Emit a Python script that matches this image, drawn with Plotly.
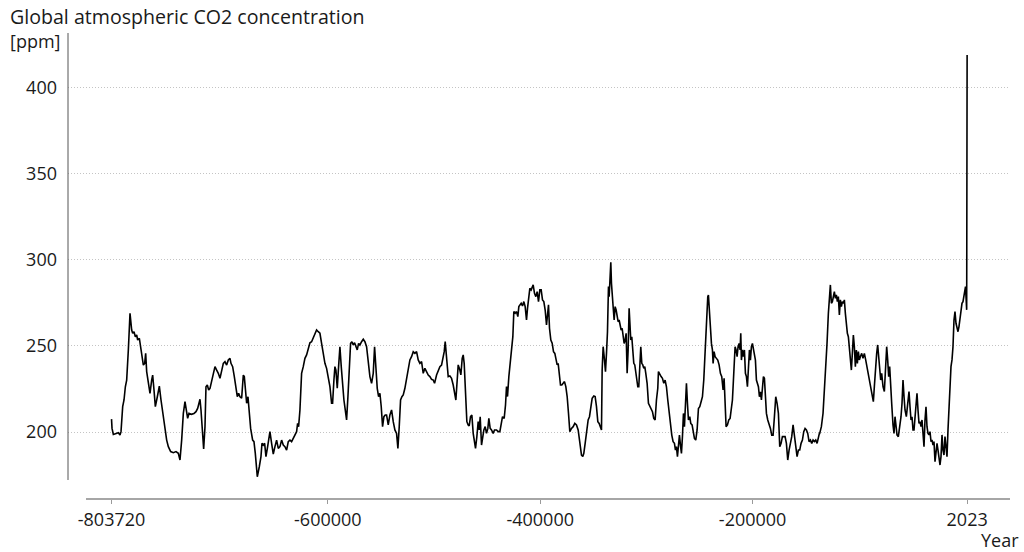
import plotly.graph_objects as go

# Atmospheric CO2 (ppm) by year, ice-core composite joined to the modern record.
# Each list holds (year, ppm) pairs for one stretch of the record.
record_804k_655k = [
    (-803720, 207.5), (-803250, 202.1), (-801993, 198.6), (-799483, 199.2), (-797286, 199.6),
    (-795717, 198.2), (-794776, 200.2), (-793207, 214.7), (-791951, 218.6), (-790696, 226.3),
    (-789441, 230.2), (-787872, 247.7), (-786303, 269.0), (-784734, 259.3), (-783793, 257.4),
    (-782537, 258.3), (-781282, 255.4), (-780027, 256.4), (-779086, 253.5), (-777517, 254.5),
    (-776261, 248.6), (-775006, 245.7), (-773751, 238.9), (-772496, 239.9), (-771554, 245.7),
    (-770613, 235.1), (-769044, 228.3), (-767475, 222.5), (-765906, 230.2), (-764965, 233.1),
    (-763709, 224.4), (-762454, 214.7), (-760571, 220.5), (-758689, 226.7), (-757120, 218.6),
    (-754923, 207.9), (-753354, 203.1), (-751785, 195.3), (-750216, 191.5), (-748019, 188.6),
    (-745509, 188.0), (-742999, 188.6), (-740802, 187.6), (-739233, 183.7), (-737664, 195.3),
    (-736095, 210.8), (-734526, 217.6), (-732957, 212.8), (-732016, 207.9), (-730760, 210.8),
    (-728564, 210.3), (-726053, 210.8), (-724171, 211.8), (-722602, 213.7), (-720405, 219.0),
    (-719464, 212.8), (-718208, 199.2), (-716953, 190.1), (-715698, 203.1), (-714757, 226.3),
    (-713501, 227.3), (-712246, 224.4), (-710991, 225.4), (-709422, 229.3), (-707853, 233.1),
    (-706284, 238.0), (-704715, 236.0), (-703146, 234.1), (-701577, 231.2), (-700008, 236.0),
    (-698439, 239.9), (-696870, 240.9), (-695301, 238.9), (-693732, 241.9), (-692163, 242.8),
    (-691222, 239.9), (-689653, 238.0), (-688084, 232.2), (-686515, 226.3), (-685259, 220.5),
    (-684004, 222.5), (-682749, 220.5), (-681180, 219.6), (-679611, 233.1), (-678670, 232.2),
    (-677728, 222.5), (-676473, 216.7), (-675218, 220.5), (-673963, 212.8), (-672707, 202.1),
    (-670825, 195.3), (-669569, 194.4), (-668314, 187.6), (-666431, 174.0), (-664549, 179.8),
    (-662980, 185.7), (-662038, 193.4), (-660783, 192.4), (-659528, 193.4), (-658273, 185.7),
    (-656704, 191.5), (-655135, 199.2),
]

record_655k_490k = [
    (-654524, 200.2), (-652955, 193.4), (-651386, 187.2), (-649817, 191.5), (-648248, 195.3),
    (-646679, 190.5), (-645110, 191.5), (-643541, 195.3), (-641972, 192.4), (-640403, 191.5),
    (-638834, 189.5), (-637265, 194.4), (-635696, 195.3), (-634127, 194.4), (-632558, 196.3),
    (-630989, 198.2), (-629420, 200.2), (-628479, 205.0), (-627537, 203.1), (-626282, 212.8),
    (-624713, 234.1), (-623144, 238.0), (-621575, 242.8), (-620006, 244.8), (-618437, 247.7),
    (-616868, 251.9), (-615299, 252.5), (-613730, 254.5), (-612161, 257.4), (-610592, 259.3),
    (-609023, 258.3), (-607454, 257.4), (-605885, 251.5), (-604316, 245.7), (-602747, 239.9),
    (-601178, 237.0), (-599609, 231.2), (-598040, 226.4), (-596471, 216.7), (-595530, 216.7),
    (-594274, 230.2), (-593333, 238.0), (-592392, 236.0), (-591136, 225.4), (-589881, 238.0),
    (-588626, 249.6), (-587371, 238.0), (-586116, 225.4), (-584860, 218.6), (-583605, 212.8),
    (-582350, 207.0), (-581095, 220.5), (-579840, 236.0), (-578584, 251.5), (-577329, 252.5),
    (-576074, 250.6), (-574819, 251.9), (-573564, 249.6), (-572308, 247.7), (-571053, 251.5),
    (-569798, 250.6), (-568229, 252.5), (-566660, 253.9), (-565091, 252.5), (-563522, 249.6),
    (-561953, 240.9), (-560384, 232.2), (-558815, 228.3), (-557246, 234.1), (-555990, 249.6),
    (-554735, 236.0), (-553480, 225.4), (-552225, 220.5), (-550970, 222.5), (-549715, 214.7),
    (-548459, 203.1), (-547204, 208.9), (-545949, 209.9), (-544694, 209.9), (-543125, 204.1),
    (-541556, 209.9), (-539987, 212.8), (-538418, 206.0), (-536849, 201.2), (-535280, 199.2),
    (-534025, 190.5), (-532770, 203.1), (-531514, 218.6), (-530259, 220.5), (-529004, 221.5),
    (-527435, 225.4), (-525866, 230.2), (-524297, 236.0), (-522728, 241.9), (-521159, 243.8),
    (-519590, 246.7), (-518021, 245.7), (-516452, 246.7), (-514883, 241.9), (-513314, 239.9),
    (-511745, 240.9), (-510176, 234.1), (-508607, 237.0), (-507038, 235.1), (-505469, 233.1),
    (-503900, 232.2), (-502331, 230.6), (-500762, 230.2), (-499507, 228.3), (-497624, 233.1),
    (-496055, 236.0), (-494486, 238.0), (-492917, 238.9), (-491348, 242.8), (-490407, 246.7),
]

record_490k_336k = [
    (-489482, 252.5), (-488227, 243.8), (-486658, 232.2), (-485089, 232.6), (-483520, 231.2),
    (-481951, 227.3), (-480696, 222.5), (-479441, 218.6), (-478185, 230.2), (-477244, 239.0),
    (-475675, 236.0), (-474734, 233.2), (-473478, 242.8), (-472537, 244.8), (-471596, 239.9),
    (-470340, 220.6), (-469085, 206.0), (-467830, 204.1), (-466889, 203.5), (-465633, 208.9),
    (-464378, 209.9), (-463123, 199.2), (-462182, 195.4), (-460927, 190.5), (-459671, 197.3),
    (-458416, 206.0), (-457475, 201.2), (-456533, 208.9), (-455278, 192.4), (-454337, 196.3),
    (-453081, 201.2), (-451826, 203.1), (-450571, 199.2), (-449316, 202.1), (-448374, 207.9),
    (-447119, 202.1), (-445864, 201.2), (-444295, 199.2), (-443040, 201.2), (-441157, 201.2),
    (-439588, 200.2), (-438019, 200.2), (-436764, 205.0), (-435509, 208.9), (-433940, 207.9),
    (-432684, 215.7), (-431743, 226.4), (-430802, 220.6), (-429546, 232.2), (-428605, 238.0),
    (-427664, 245.7), (-426722, 253.5), (-425781, 255.4), (-424840, 270.0), (-423585, 269.0),
    (-422329, 270.0), (-421074, 267.1), (-420133, 272.9), (-419191, 273.9), (-417936, 274.8),
    (-416681, 273.3), (-415425, 275.8), (-414170, 272.9), (-412915, 265.1), (-411974, 271.9),
    (-411032, 278.7), (-409777, 283.5), (-408522, 282.6), (-407581, 284.5), (-406639, 285.5),
    (-405384, 280.6), (-404129, 278.7), (-402874, 281.6), (-401618, 275.8), (-400363, 282.6),
    (-399108, 282.6), (-397853, 276.8), (-396597, 275.8), (-395342, 270.9), (-394087, 262.2),
    (-393146, 268.0), (-392204, 273.9), (-391263, 260.3), (-390008, 253.5), (-388752, 251.6),
    (-387497, 246.7), (-386242, 245.7), (-384987, 241.9), (-384045, 239.0), (-383104, 239.9),
    (-382162, 233.2), (-380907, 227.3), (-379652, 227.3), (-378397, 228.3), (-377141, 229.3),
    (-375886, 226.4), (-374631, 220.6), (-373376, 210.9), (-372121, 200.2), (-370552, 202.1),
    (-368983, 203.1), (-367414, 205.0), (-365845, 204.1), (-364276, 201.2), (-362707, 193.4),
    (-361138, 186.6), (-359883, 185.7), (-358942, 187.6), (-357686, 193.4), (-356431, 201.2),
    (-354862, 207.0), (-353607, 208.9), (-352352, 214.7), (-351096, 219.6), (-349527, 220.9),
    (-348272, 220.6), (-347017, 214.7), (-345762, 206.0), (-344506, 205.0), (-343251, 202.1),
    (-342310, 201.2), (-341682, 236.0), (-340741, 249.6), (-339486, 241.9), (-338544, 235.1),
    (-337603, 245.7), (-336662, 258.3),
]

record_336k_137k = [
    (-335733, 284.5), (-335106, 278.7), (-334478, 286.4), (-333850, 294.2), (-333537, 298.6),
    (-332909, 286.4), (-332282, 278.7), (-331340, 272.9), (-330399, 265.1), (-329457, 272.9),
    (-328516, 270.9), (-327574, 267.1), (-326633, 264.1), (-325692, 265.1), (-324750, 261.2),
    (-323809, 259.3), (-322867, 260.3), (-321926, 255.4), (-320985, 251.5), (-320043, 253.5),
    (-319102, 257.4), (-318160, 234.1), (-317219, 247.7), (-316278, 271.9), (-315650, 265.1),
    (-314709, 253.5), (-313767, 255.4), (-312826, 247.7), (-311884, 239.9), (-310943, 239.0),
    (-310002, 234.1), (-309060, 230.2), (-308119, 226.3), (-307177, 226.3), (-306236, 243.8),
    (-305295, 249.6), (-304353, 239.9), (-303412, 239.0), (-302470, 237.0), (-301529, 238.0),
    (-300588, 234.1), (-299332, 228.3), (-298077, 216.7), (-296822, 214.7), (-295567, 212.8),
    (-294311, 211.8), (-293056, 207.9), (-291801, 207.0), (-290546, 218.6), (-289290, 225.4),
    (-288663, 235.1), (-287408, 233.1), (-286152, 232.2), (-284897, 231.2), (-283642, 228.3),
    (-282386, 230.2), (-281131, 226.3), (-279876, 218.6), (-278621, 210.8), (-277365, 205.0),
    (-276110, 198.2), (-274855, 194.4), (-273599, 193.4), (-272658, 189.5), (-271716, 191.5),
    (-270775, 185.7), (-269834, 195.3), (-268892, 198.2), (-267951, 192.4), (-267009, 187.6),
    (-266068, 197.3), (-265127, 210.8), (-264185, 203.1), (-263244, 218.6), (-262304, 228.3),
    (-261361, 216.7), (-260419, 207.0), (-259164, 208.9), (-258223, 205.0), (-256968, 204.1),
    (-256026, 201.2), (-254771, 196.3), (-253516, 195.3), (-252261, 201.2), (-251005, 213.7),
    (-249750, 214.7), (-248495, 217.6), (-247239, 220.5), (-245984, 230.2), (-244729, 247.7),
    (-243474, 264.1), (-242218, 278.7), (-241591, 279.6), (-240649, 270.9), (-239708, 257.4),
    (-238767, 251.5), (-237825, 247.7), (-237197, 239.9), (-236256, 246.7), (-235315, 243.8),
    (-234059, 242.8), (-232804, 241.8), (-231549, 239.0), (-230294, 234.1), (-229038, 232.2),
    (-227783, 224.4), (-226842, 231.2), (-225900, 216.7), (-224959, 203.1), (-223704, 204.1),
    (-222448, 207.0), (-221193, 207.9), (-219938, 214.7), (-218996, 218.6), (-218369, 226.3),
    (-217427, 241.8), (-216486, 249.6), (-215544, 247.7), (-214603, 243.8), (-213661, 249.6),
    (-212720, 251.5), (-211779, 247.7), (-211151, 257.4), (-210523, 241.8), (-209582, 247.7),
    (-208641, 243.8), (-207699, 247.7), (-206758, 234.1), (-205817, 232.2), (-204875, 226.3),
    (-203934, 241.8), (-202992, 247.7), (-202051, 241.8), (-201110, 249.6), (-200168, 251.5),
    (-199227, 247.7), (-198285, 245.7), (-197344, 241.8), (-196403, 230.2), (-195461, 228.3),
    (-194520, 226.3), (-193578, 220.5), (-192637, 223.4), (-191695, 218.6), (-190754, 226.3),
    (-189813, 232.2), (-188871, 231.2), (-188244, 220.5), (-186988, 210.8), (-185733, 207.0),
    (-184478, 205.0), (-183223, 202.1), (-181967, 198.2), (-180712, 198.2), (-179457, 208.9),
    (-178201, 220.5), (-176946, 216.7), (-175691, 210.8), (-174435, 191.5), (-173180, 193.4),
    (-171925, 197.3), (-170670, 197.3), (-169414, 197.3), (-168159, 193.4), (-166904, 183.7),
    (-165648, 189.5), (-164393, 193.4), (-163138, 197.3), (-161883, 204.1), (-160627, 197.3),
    (-159372, 189.5), (-158117, 185.7), (-156861, 189.5), (-155606, 189.5), (-154351, 193.4),
    (-153095, 195.3), (-151840, 200.2), (-150585, 202.1), (-149330, 201.2), (-148074, 199.2),
    (-146819, 194.4), (-145564, 195.3), (-144308, 193.4), (-143053, 195.3), (-141798, 194.4),
    (-140542, 195.3), (-139287, 193.4), (-138032, 198.2), (-137090, 199.2),
]

record_137k_2023 = [
    (-136806, 199.2), (-135237, 203.1), (-133668, 210.9), (-132413, 222.5), (-131158, 234.1),
    (-129902, 251.6), (-128647, 269.0), (-127706, 278.7), (-126764, 285.5), (-125823, 274.8),
    (-124882, 275.8), (-123940, 278.7), (-122999, 281.6), (-122057, 277.7), (-121116, 279.7),
    (-120175, 275.8), (-119233, 278.7), (-118292, 268.0), (-117350, 276.8), (-116409, 272.9),
    (-115468, 275.8), (-114526, 274.8), (-113585, 276.8), (-112643, 269.0), (-111702, 261.3),
    (-110761, 257.4), (-109819, 255.4), (-108878, 247.7), (-107936, 243.8), (-106995, 236.0),
    (-106054, 245.7), (-105112, 256.4), (-104171, 249.6), (-103229, 238.0), (-102288, 247.7),
    (-101347, 239.9), (-100405, 246.7), (-99464, 241.9), (-98522, 243.8), (-97267, 245.7),
    (-96012, 242.8), (-94757, 245.7), (-93501, 241.9), (-92246, 238.0), (-90991, 232.2),
    (-89736, 230.2), (-88481, 226.4), (-87225, 222.5), (-86284, 217.6), (-85342, 226.4),
    (-84401, 236.0), (-83146, 245.7), (-82204, 250.6), (-81263, 241.9), (-80322, 233.2),
    (-79380, 230.2), (-78439, 234.1), (-77184, 226.4), (-75929, 223.5), (-74674, 239.9),
    (-73732, 249.6), (-72791, 241.9), (-71849, 232.2), (-70908, 238.0), (-69967, 230.2),
    (-69025, 216.7), (-67770, 204.1), (-66829, 199.2), (-65887, 208.9), (-64946, 201.2),
    (-64004, 198.3), (-62749, 197.3), (-61494, 203.1), (-60239, 208.9), (-59297, 216.7),
    (-58356, 230.2), (-57415, 220.6), (-56473, 212.8), (-55218, 208.9), (-53963, 217.6),
    (-52708, 223.5), (-51766, 214.7), (-50825, 207.0), (-49883, 208.9), (-48942, 201.2),
    (-48001, 201.2), (-47059, 207.0), (-46118, 214.7), (-45176, 222.5), (-44235, 212.8),
    (-43294, 205.0), (-42352, 206.0), (-41411, 203.1), (-40469, 207.0), (-39528, 199.2),
    (-38587, 191.5), (-37645, 207.0), (-36704, 214.7), (-35762, 203.1), (-34821, 199.2),
    (-33880, 198.3), (-32938, 200.2), (-31997, 194.4), (-31055, 195.4), (-30114, 192.4),
    (-29173, 194.4), (-28231, 182.8), (-27290, 188.6), (-26348, 193.4), (-25407, 189.5),
    (-24466, 183.7), (-23524, 180.8), (-22583, 185.7), (-21641, 198.3), (-20700, 189.5),
    (-19759, 186.6), (-18817, 197.3), (-17876, 189.5), (-16934, 185.7), (-15993, 201.2),
    (-15052, 216.7), (-14110, 224.4), (-13169, 238.0), (-12227, 241.9), (-11286, 249.6),
    (-10345, 265.1), (-9403, 270.0), (-8462, 263.2), (-7520, 260.3), (-6579, 258.3),
    (-5638, 261.3), (-4696, 266.1), (-3755, 270.9), (-2813, 274.8), (-1872, 275.8),
    (-931, 278.7), (500, 284.5), (1600, 271.0), (2023, 419.2),
]

segments = [record_804k_655k, record_655k_490k, record_490k_336k,
            record_336k_137k, record_137k_2023]
years = [year for seg in segments for year, _ in seg]
co2_ppm = [ppm for seg in segments for _, ppm in seg]

x_tick_years = [-803720, -600000, -400000, -200000, 2023]
x_tick_labels = ["-803720", "-600000", "-400000", "-200000", "2023"]
y_tick_values = [200, 250, 300, 350, 400]

FONT = "'Open Sans', Lato, sans-serif"
TEXT = "#1a1a1a"
FS = 18

fig = go.Figure(
    go.Scatter(
        x=years, y=co2_ppm, mode="lines",
        line=dict(color="#000000", width=1.6),
        hoverinfo="skip",
    )
)

fig.update_layout(
    width=1024, height=552,
    margin=dict(l=68, r=14, t=33, b=53),
    plot_bgcolor="white", paper_bgcolor="white",
    showlegend=False,
    font=dict(family=FONT, size=FS, color=TEXT),
)

fig.update_xaxes(
    range=[-844700, 42400],
    tickvals=x_tick_years, ticktext=x_tick_labels,
    showgrid=False, zeroline=False, showline=False,
    ticks="outside", ticklen=4, tickwidth=1, tickcolor="#9a9a9a",
    tickfont=dict(family=FONT, size=FS, color=TEXT),
)

fig.update_yaxes(
    range=[161.05, 431.95],
    tickvals=y_tick_values,
    showgrid=True, gridcolor="#c4c4c4", gridwidth=1, griddash="1px,2px",
    zeroline=False, showline=False, ticks="",
    ticklabelstandoff=10,
    tickfont=dict(family=FONT, size=FS, color=TEXT),
)

# Detached axis lines: a short vertical rule on the left and a grey baseline
fig.add_shape(type="line", xref="paper", yref="y", x0=0, x1=0, y0=172.1, y1=431.95,
              line=dict(color="#555555", width=1))
fig.add_shape(type="line", xref="paper", yref="paper", x0=18 / 942, x1=1, y0=0, y1=0,
              line=dict(color="#a6a6a6", width=2))

fig.add_annotation(text="Global atmospheric CO2 concentration", xref="paper", yref="paper",
                   x=-60 / 942, y=(499 - 16) / 466, xanchor="left", yanchor="middle",
                   showarrow=False, font=dict(family=FONT, size=19.6, color=TEXT))
fig.add_annotation(text="[ppm]", xref="paper", yref="paper",
                   x=-60 / 942, y=(499 - 41) / 466, xanchor="left", yanchor="middle",
                   showarrow=False, font=dict(family=FONT, size=FS, color=TEXT))
fig.add_annotation(text="Year", xref="paper", yref="paper",
                   x=(1021 - 68) / 942, y=(499 - 540) / 466, xanchor="right", yanchor="middle",
                   showarrow=False, font=dict(family=FONT, size=FS, color=TEXT))

fig.write_html("out.html")
